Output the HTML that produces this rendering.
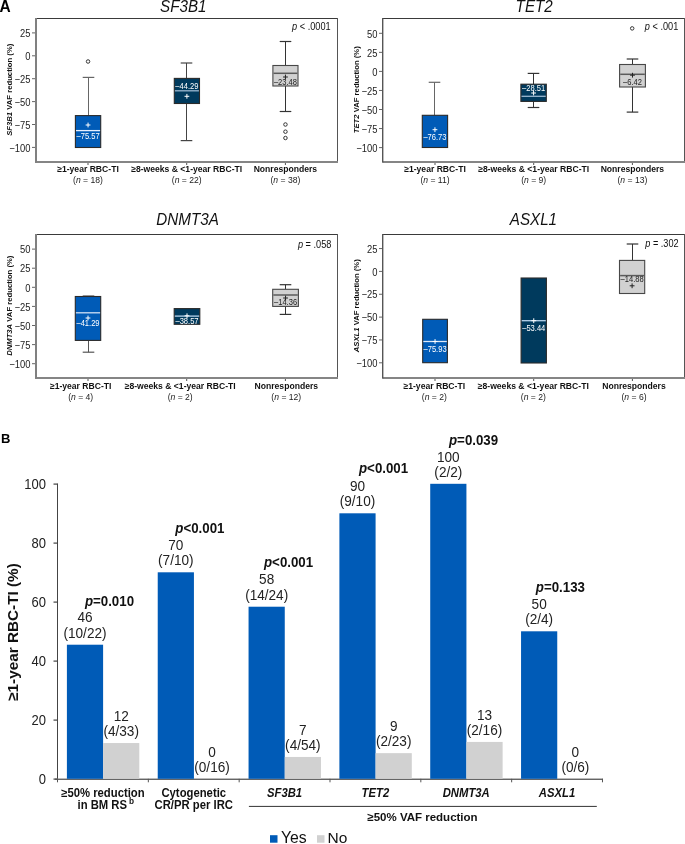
<!DOCTYPE html>
<html><head><meta charset="utf-8"><style>
html,body{margin:0;padding:0;background:#fff;overflow:hidden;}
svg{display:block;font-family:"Liberation Sans", sans-serif;will-change:transform;}
</style></head><body>
<svg width="685" height="844" viewBox="0 0 685 844">
<text x="0" y="0" transform="translate(-0.4,11.6) scale(1,1.05)" font-size="15.5" text-anchor="start" font-weight="bold" font-style="normal" fill="#000" >A</text>
<text x="0" y="0" transform="translate(183.3,11.7) scale(1,1.05)" font-size="15.2" text-anchor="middle" font-weight="normal" font-style="italic" fill="#111" >SF3B1</text>
<rect x="35" y="18" width="302.6" height="1" fill="#3a3a3a" />
<rect x="337" y="18" width="1" height="143.5" fill="#555" />
<rect x="35" y="161.0" width="303" height="2" fill="#858585" />
<rect x="35" y="18" width="2" height="144.5" fill="#808080" />
<rect x="32" y="32.39999999999999" width="3" height="1" fill="#666" />
<text x="0" y="0" transform="translate(30.5,37.099999999999994) scale(1,1.1)" font-size="9.4" text-anchor="end" font-weight="normal" font-style="normal" fill="#222" >25</text>
<rect x="32" y="55.3" width="3" height="1" fill="#666" />
<text x="0" y="0" transform="translate(30.5,60.0) scale(1,1.1)" font-size="9.4" text-anchor="end" font-weight="normal" font-style="normal" fill="#222" >0</text>
<rect x="32" y="78.2" width="3" height="1" fill="#666" />
<text x="0" y="0" transform="translate(30.5,82.9) scale(1,1.1)" font-size="9.4" text-anchor="end" font-weight="normal" font-style="normal" fill="#222" >−25</text>
<rect x="32" y="101.1" width="3" height="1" fill="#666" />
<text x="0" y="0" transform="translate(30.5,105.8) scale(1,1.1)" font-size="9.4" text-anchor="end" font-weight="normal" font-style="normal" fill="#222" >−50</text>
<rect x="32" y="124.0" width="3" height="1" fill="#666" />
<text x="0" y="0" transform="translate(30.5,128.7) scale(1,1.1)" font-size="9.4" text-anchor="end" font-weight="normal" font-style="normal" fill="#222" >−75</text>
<rect x="32" y="146.9" width="3" height="1" fill="#666" />
<text x="0" y="0" transform="translate(30.5,151.6) scale(1,1.1)" font-size="9.4" text-anchor="end" font-weight="normal" font-style="normal" fill="#222" >−100</text>
<text x="0" y="0" font-size="7.7" font-weight="bold" text-anchor="middle" fill="#111" transform="translate(12.3,89.75) rotate(-90)"><tspan font-style="italic">SF3B1</tspan> VAF reduction (%)</text>
<rect x="87.5" y="163.0" width="1" height="2" fill="#555" />
<text x="88" y="172.3" font-size="8.6" text-anchor="middle" font-weight="bold" font-style="normal" fill="#111" >≥1-year RBC-TI</text>
<text x="88" y="183.2" font-size="8.6" text-anchor="middle" font-weight="normal" font-style="normal" fill="#222" >(<tspan font-style="italic">n</tspan> = 18)</text>
<rect x="186.2" y="163.0" width="1" height="2" fill="#555" />
<text x="186.7" y="172.3" font-size="8.6" text-anchor="middle" font-weight="bold" font-style="normal" fill="#111" >≥8-weeks &amp; &lt;1-year RBC-TI</text>
<text x="186.7" y="183.2" font-size="8.6" text-anchor="middle" font-weight="normal" font-style="normal" fill="#222" >(<tspan font-style="italic">n</tspan> = 22)</text>
<rect x="284.9" y="163.0" width="1" height="2" fill="#555" />
<text x="285.4" y="172.3" font-size="8.6" text-anchor="middle" font-weight="bold" font-style="normal" fill="#111" >Nonresponders</text>
<text x="285.4" y="183.2" font-size="8.6" text-anchor="middle" font-weight="normal" font-style="normal" fill="#222" >(<tspan font-style="italic">n</tspan> = 38)</text>
<text x="0" y="0" transform="translate(330.7,29.8) scale(1,1.15)" font-size="9.2" text-anchor="end" font-weight="normal" font-style="normal" fill="#111" ><tspan font-style="italic">p</tspan> &lt; .0001</text>
<text x="0" y="0" transform="translate(534.2,11.7) scale(1,1.05)" font-size="15.2" text-anchor="middle" font-weight="normal" font-style="italic" fill="#111" >TET2</text>
<rect x="382.5" y="18" width="302.1" height="1" fill="#3a3a3a" />
<rect x="684" y="18" width="1" height="143.5" fill="#555" />
<rect x="382.5" y="161.0" width="302.5" height="2" fill="#858585" />
<rect x="382" y="18" width="1.4" height="144.5" fill="#555" />
<rect x="379" y="32.800000000000004" width="3" height="1" fill="#666" />
<text x="0" y="0" transform="translate(377.5,37.50000000000001) scale(1,1.1)" font-size="9.4" text-anchor="end" font-weight="normal" font-style="normal" fill="#222" >50</text>
<rect x="379" y="51.85000000000001" width="3" height="1" fill="#666" />
<text x="0" y="0" transform="translate(377.5,56.55000000000001) scale(1,1.1)" font-size="9.4" text-anchor="end" font-weight="normal" font-style="normal" fill="#222" >25</text>
<rect x="379" y="70.9" width="3" height="1" fill="#666" />
<text x="0" y="0" transform="translate(377.5,75.60000000000001) scale(1,1.1)" font-size="9.4" text-anchor="end" font-weight="normal" font-style="normal" fill="#222" >0</text>
<rect x="379" y="89.95" width="3" height="1" fill="#666" />
<text x="0" y="0" transform="translate(377.5,94.65) scale(1,1.1)" font-size="9.4" text-anchor="end" font-weight="normal" font-style="normal" fill="#222" >−25</text>
<rect x="379" y="109.0" width="3" height="1" fill="#666" />
<text x="0" y="0" transform="translate(377.5,113.7) scale(1,1.1)" font-size="9.4" text-anchor="end" font-weight="normal" font-style="normal" fill="#222" >−50</text>
<rect x="379" y="128.05" width="3" height="1" fill="#666" />
<text x="0" y="0" transform="translate(377.5,132.75) scale(1,1.1)" font-size="9.4" text-anchor="end" font-weight="normal" font-style="normal" fill="#222" >−75</text>
<rect x="379" y="147.10000000000002" width="3" height="1" fill="#666" />
<text x="0" y="0" transform="translate(377.5,151.8) scale(1,1.1)" font-size="9.4" text-anchor="end" font-weight="normal" font-style="normal" fill="#222" >−100</text>
<text x="0" y="0" font-size="7.7" font-weight="bold" text-anchor="middle" fill="#111" transform="translate(359.3,89.75) rotate(-90)"><tspan font-style="italic">TET2</tspan> VAF reduction (%)</text>
<rect x="434.5" y="163.0" width="1" height="2" fill="#555" />
<text x="435" y="172.3" font-size="8.6" text-anchor="middle" font-weight="bold" font-style="normal" fill="#111" >≥1-year RBC-TI</text>
<text x="435" y="183.2" font-size="8.6" text-anchor="middle" font-weight="normal" font-style="normal" fill="#222" >(<tspan font-style="italic">n</tspan> = 11)</text>
<rect x="533.2" y="163.0" width="1" height="2" fill="#555" />
<text x="533.7" y="172.3" font-size="8.6" text-anchor="middle" font-weight="bold" font-style="normal" fill="#111" >≥8-weeks &amp; &lt;1-year RBC-TI</text>
<text x="533.7" y="183.2" font-size="8.6" text-anchor="middle" font-weight="normal" font-style="normal" fill="#222" >(<tspan font-style="italic">n</tspan> = 9)</text>
<rect x="631.9" y="163.0" width="1" height="2" fill="#555" />
<text x="632.4" y="172.3" font-size="8.6" text-anchor="middle" font-weight="bold" font-style="normal" fill="#111" >Nonresponders</text>
<text x="632.4" y="183.2" font-size="8.6" text-anchor="middle" font-weight="normal" font-style="normal" fill="#222" >(<tspan font-style="italic">n</tspan> = 13)</text>
<text x="0" y="0" transform="translate(678.3,29.8) scale(1,1.15)" font-size="9.2" text-anchor="end" font-weight="normal" font-style="normal" fill="#111" ><tspan font-style="italic">p</tspan> &lt; .001</text>
<text x="0" y="0" transform="translate(187.6,225.1) scale(1,1.05)" font-size="15.2" text-anchor="middle" font-weight="normal" font-style="italic" fill="#111" >DNMT3A</text>
<rect x="35" y="234" width="302.6" height="1" fill="#3a3a3a" />
<rect x="337" y="234" width="1" height="143.5" fill="#555" />
<rect x="35" y="377.0" width="303" height="2" fill="#858585" />
<rect x="35" y="234" width="2" height="144.5" fill="#808080" />
<rect x="32" y="248.60000000000002" width="3" height="1" fill="#666" />
<text x="0" y="0" transform="translate(30.5,253.3) scale(1,1.1)" font-size="9.4" text-anchor="end" font-weight="normal" font-style="normal" fill="#222" >50</text>
<rect x="32" y="267.7" width="3" height="1" fill="#666" />
<text x="0" y="0" transform="translate(30.5,272.4) scale(1,1.1)" font-size="9.4" text-anchor="end" font-weight="normal" font-style="normal" fill="#222" >25</text>
<rect x="32" y="286.8" width="3" height="1" fill="#666" />
<text x="0" y="0" transform="translate(30.5,291.5) scale(1,1.1)" font-size="9.4" text-anchor="end" font-weight="normal" font-style="normal" fill="#222" >0</text>
<rect x="32" y="305.90000000000003" width="3" height="1" fill="#666" />
<text x="0" y="0" transform="translate(30.5,310.6) scale(1,1.1)" font-size="9.4" text-anchor="end" font-weight="normal" font-style="normal" fill="#222" >−25</text>
<rect x="32" y="325.0" width="3" height="1" fill="#666" />
<text x="0" y="0" transform="translate(30.5,329.7) scale(1,1.1)" font-size="9.4" text-anchor="end" font-weight="normal" font-style="normal" fill="#222" >−50</text>
<rect x="32" y="344.1" width="3" height="1" fill="#666" />
<text x="0" y="0" transform="translate(30.5,348.8) scale(1,1.1)" font-size="9.4" text-anchor="end" font-weight="normal" font-style="normal" fill="#222" >−75</text>
<rect x="32" y="363.20000000000005" width="3" height="1" fill="#666" />
<text x="0" y="0" transform="translate(30.5,367.90000000000003) scale(1,1.1)" font-size="9.4" text-anchor="end" font-weight="normal" font-style="normal" fill="#222" >−100</text>
<text x="0" y="0" font-size="7.7" font-weight="bold" text-anchor="middle" fill="#111" transform="translate(12.3,305.75) rotate(-90)"><tspan font-style="italic">DNMT3A</tspan> VAF reduction (%)</text>
<rect x="87.5" y="379.0" width="1" height="2" fill="#555" />
<text x="80.7" y="389.0" font-size="8.6" text-anchor="middle" font-weight="bold" font-style="normal" fill="#111" >≥1-year RBC-TI</text>
<text x="80.7" y="399.7" font-size="8.6" text-anchor="middle" font-weight="normal" font-style="normal" fill="#222" >(<tspan font-style="italic">n</tspan> = 4)</text>
<rect x="186.2" y="379.0" width="1" height="2" fill="#555" />
<text x="180.2" y="389.0" font-size="8.6" text-anchor="middle" font-weight="bold" font-style="normal" fill="#111" >≥8-weeks &amp; &lt;1-year RBC-TI</text>
<text x="180.2" y="399.7" font-size="8.6" text-anchor="middle" font-weight="normal" font-style="normal" fill="#222" >(<tspan font-style="italic">n</tspan> = 2)</text>
<rect x="284.9" y="379.0" width="1" height="2" fill="#555" />
<text x="286.3" y="389.0" font-size="8.6" text-anchor="middle" font-weight="bold" font-style="normal" fill="#111" >Nonresponders</text>
<text x="286.3" y="399.7" font-size="8.6" text-anchor="middle" font-weight="normal" font-style="normal" fill="#222" >(<tspan font-style="italic">n</tspan> = 12)</text>
<text x="0" y="0" transform="translate(331.4,247.7) scale(1,1.15)" font-size="9.2" text-anchor="end" font-weight="normal" font-style="normal" fill="#111" ><tspan font-style="italic">p</tspan> = .058</text>
<text x="0" y="0" transform="translate(533.4,225.1) scale(1,1.05)" font-size="15.2" text-anchor="middle" font-weight="normal" font-style="italic" fill="#111" >ASXL1</text>
<rect x="382.5" y="234" width="302.1" height="1" fill="#3a3a3a" />
<rect x="684" y="234" width="1" height="143.5" fill="#555" />
<rect x="382.5" y="377.0" width="302.5" height="2" fill="#858585" />
<rect x="382" y="234" width="1.4" height="144.5" fill="#555" />
<rect x="379" y="248.04999999999998" width="3" height="1" fill="#666" />
<text x="0" y="0" transform="translate(377.5,252.74999999999997) scale(1,1.1)" font-size="9.4" text-anchor="end" font-weight="normal" font-style="normal" fill="#222" >25</text>
<rect x="379" y="270.9" width="3" height="1" fill="#666" />
<text x="0" y="0" transform="translate(377.5,275.59999999999997) scale(1,1.1)" font-size="9.4" text-anchor="end" font-weight="normal" font-style="normal" fill="#222" >0</text>
<rect x="379" y="293.75" width="3" height="1" fill="#666" />
<text x="0" y="0" transform="translate(377.5,298.45) scale(1,1.1)" font-size="9.4" text-anchor="end" font-weight="normal" font-style="normal" fill="#222" >−25</text>
<rect x="379" y="316.59999999999997" width="3" height="1" fill="#666" />
<text x="0" y="0" transform="translate(377.5,321.29999999999995) scale(1,1.1)" font-size="9.4" text-anchor="end" font-weight="normal" font-style="normal" fill="#222" >−50</text>
<rect x="379" y="339.45" width="3" height="1" fill="#666" />
<text x="0" y="0" transform="translate(377.5,344.15) scale(1,1.1)" font-size="9.4" text-anchor="end" font-weight="normal" font-style="normal" fill="#222" >−75</text>
<rect x="379" y="362.29999999999995" width="3" height="1" fill="#666" />
<text x="0" y="0" transform="translate(377.5,366.99999999999994) scale(1,1.1)" font-size="9.4" text-anchor="end" font-weight="normal" font-style="normal" fill="#222" >−100</text>
<text x="0" y="0" font-size="7.7" font-weight="bold" text-anchor="middle" fill="#111" transform="translate(359.3,305.75) rotate(-90)"><tspan font-style="italic">ASXL1</tspan> VAF reduction (%)</text>
<rect x="434.5" y="379.0" width="1" height="2" fill="#555" />
<text x="434.3" y="389.0" font-size="8.6" text-anchor="middle" font-weight="bold" font-style="normal" fill="#111" >≥1-year RBC-TI</text>
<text x="434.3" y="399.7" font-size="8.6" text-anchor="middle" font-weight="normal" font-style="normal" fill="#222" >(<tspan font-style="italic">n</tspan> = 2)</text>
<rect x="533.2" y="379.0" width="1" height="2" fill="#555" />
<text x="533.3" y="389.0" font-size="8.6" text-anchor="middle" font-weight="bold" font-style="normal" fill="#111" >≥8-weeks &amp; &lt;1-year RBC-TI</text>
<text x="533.3" y="399.7" font-size="8.6" text-anchor="middle" font-weight="normal" font-style="normal" fill="#222" >(<tspan font-style="italic">n</tspan> = 2)</text>
<rect x="631.9" y="379.0" width="1" height="2" fill="#555" />
<text x="634" y="389.0" font-size="8.6" text-anchor="middle" font-weight="bold" font-style="normal" fill="#111" >Nonresponders</text>
<text x="634" y="399.7" font-size="8.6" text-anchor="middle" font-weight="normal" font-style="normal" fill="#222" >(<tspan font-style="italic">n</tspan> = 6)</text>
<text x="0" y="0" transform="translate(678.7,246.9) scale(1,1.15)" font-size="9.2" text-anchor="end" font-weight="normal" font-style="normal" fill="#111" ><tspan font-style="italic">p</tspan> = .302</text>
<line x1="88.5" y1="77.4" x2="88.5" y2="115.6" stroke="#666" stroke-width="1" />
<line x1="82.7" y1="77.4" x2="94.3" y2="77.4" stroke="#666" stroke-width="1.2" />
<rect x="75.4" y="115.6" width="25.299999999999997" height="31.900000000000006" fill="#005bb7" stroke="#2a2a2a" stroke-width="1.1"/>
<line x1="76.0" y1="130.6" x2="100.10000000000001" y2="130.6" stroke="#e8f0ff" stroke-width="1.3" />
<line x1="85.65" y1="125" x2="90.45000000000002" y2="125" stroke="#fff" stroke-width="1.0" />
<line x1="88.05000000000001" y1="122.6" x2="88.05000000000001" y2="127.4" stroke="#fff" stroke-width="1.0" />
<text x="0" y="0" transform="translate(88.05000000000001,139.29999999999998) scale(0.9,1)" font-size="8.4" text-anchor="middle" font-weight="normal" font-style="normal" fill="#fff" >–75.57</text>
<circle cx="88.05000000000001" cy="61.5" r="1.75" fill="none" stroke="#333" stroke-width="1"/>
<line x1="186.5" y1="63" x2="186.5" y2="78.4" stroke="#444" stroke-width="1" />
<line x1="180.7" y1="63" x2="192.3" y2="63" stroke="#444" stroke-width="1.2" />
<line x1="186.5" y1="103.5" x2="186.5" y2="140.6" stroke="#444" stroke-width="1" />
<line x1="180.7" y1="140.6" x2="192.3" y2="140.6" stroke="#444" stroke-width="1.2" />
<rect x="174.3" y="78.4" width="25.19999999999999" height="25.099999999999994" fill="#003a5d" stroke="#2a2a2a" stroke-width="1.1"/>
<line x1="174.9" y1="90.8" x2="198.9" y2="90.8" stroke="#9ab8d0" stroke-width="1.3" />
<line x1="184.5" y1="96.3" x2="189.3" y2="96.3" stroke="#fff" stroke-width="1.0" />
<line x1="186.9" y1="93.89999999999999" x2="186.9" y2="98.7" stroke="#fff" stroke-width="1.0" />
<text x="0" y="0" transform="translate(186.9,88.5) scale(0.9,1)" font-size="8.4" text-anchor="middle" font-weight="normal" font-style="normal" fill="#fff" >–44.29</text>
<line x1="285.5" y1="41.5" x2="285.5" y2="65.5" stroke="#333" stroke-width="1" />
<line x1="279.7" y1="41.5" x2="291.3" y2="41.5" stroke="#333" stroke-width="1.2" />
<line x1="285.5" y1="86" x2="285.5" y2="111.5" stroke="#333" stroke-width="1" />
<line x1="279.7" y1="111.5" x2="291.3" y2="111.5" stroke="#333" stroke-width="1.2" />
<rect x="272.9" y="65.5" width="25.100000000000023" height="20.5" fill="#d1d1d1" stroke="#474747" stroke-width="1.1"/>
<line x1="273.5" y1="73.3" x2="297.4" y2="73.3" stroke="#5a5a5a" stroke-width="1.5" />
<line x1="283.05" y1="77" x2="287.84999999999997" y2="77" stroke="#222" stroke-width="1.0" />
<line x1="285.45" y1="74.6" x2="285.45" y2="79.4" stroke="#222" stroke-width="1.0" />
<text x="0" y="0" transform="translate(285.45,85.39999999999999) scale(0.9,1)" font-size="8.4" text-anchor="middle" font-weight="normal" font-style="normal" fill="#222" >–23.48</text>
<circle cx="285.45" cy="124.5" r="1.75" fill="none" stroke="#333" stroke-width="1"/>
<circle cx="285.45" cy="131.7" r="1.75" fill="none" stroke="#333" stroke-width="1"/>
<circle cx="285.45" cy="138" r="1.75" fill="none" stroke="#333" stroke-width="1"/>
<line x1="434.5" y1="82.3" x2="434.5" y2="115.3" stroke="#666" stroke-width="1" />
<line x1="428.7" y1="82.3" x2="440.3" y2="82.3" stroke="#666" stroke-width="1.2" />
<rect x="422.3" y="115.3" width="25.30000000000001" height="32.2" fill="#005bb7" stroke="#2a2a2a" stroke-width="1.1"/>
<line x1="432.55000000000007" y1="129.7" x2="437.35" y2="129.7" stroke="#fff" stroke-width="1.0" />
<line x1="434.95000000000005" y1="127.29999999999998" x2="434.95000000000005" y2="132.1" stroke="#fff" stroke-width="1.0" />
<text x="0" y="0" transform="translate(434.95000000000005,139.6) scale(0.9,1)" font-size="8.4" text-anchor="middle" font-weight="normal" font-style="normal" fill="#fff" >–76.73</text>
<line x1="533.5" y1="73.4" x2="533.5" y2="84.2" stroke="#333" stroke-width="1" />
<line x1="527.7" y1="73.4" x2="539.3" y2="73.4" stroke="#333" stroke-width="1.2" />
<line x1="533.5" y1="101.4" x2="533.5" y2="107.5" stroke="#333" stroke-width="1" />
<line x1="527.7" y1="107.5" x2="539.3" y2="107.5" stroke="#333" stroke-width="1.2" />
<rect x="520.9" y="84.2" width="25.399999999999977" height="17.200000000000003" fill="#003a5d" stroke="#2a2a2a" stroke-width="1.1"/>
<line x1="521.5" y1="96.3" x2="545.6999999999999" y2="96.3" stroke="#9ab8d0" stroke-width="1.3" />
<line x1="531.1999999999999" y1="93" x2="535.9999999999999" y2="93" stroke="#fff" stroke-width="1.0" />
<line x1="533.5999999999999" y1="90.6" x2="533.5999999999999" y2="95.4" stroke="#fff" stroke-width="1.0" />
<text x="0" y="0" transform="translate(533.5999999999999,91.19999999999999) scale(0.9,1)" font-size="8.4" text-anchor="middle" font-weight="normal" font-style="normal" fill="#fff" >–28.51</text>
<line x1="632.5" y1="59" x2="632.5" y2="64.5" stroke="#333" stroke-width="1" />
<line x1="626.7" y1="59" x2="638.3" y2="59" stroke="#333" stroke-width="1.2" />
<line x1="632.5" y1="87" x2="632.5" y2="112.1" stroke="#333" stroke-width="1" />
<line x1="626.7" y1="112.1" x2="638.3" y2="112.1" stroke="#333" stroke-width="1.2" />
<rect x="619.6" y="64.5" width="25.799999999999955" height="22.5" fill="#d1d1d1" stroke="#474747" stroke-width="1.1"/>
<line x1="620.2" y1="74.3" x2="644.8" y2="74.3" stroke="#5a5a5a" stroke-width="1.5" />
<line x1="630.1" y1="75.2" x2="634.9" y2="75.2" stroke="#222" stroke-width="1.0" />
<line x1="632.5" y1="72.8" x2="632.5" y2="77.60000000000001" stroke="#222" stroke-width="1.0" />
<text x="0" y="0" transform="translate(632.5,85.1) scale(0.9,1)" font-size="8.4" text-anchor="middle" font-weight="normal" font-style="normal" fill="#222" >–6.42</text>
<circle cx="632.2" cy="28.4" r="1.75" fill="none" stroke="#333" stroke-width="1"/>
<line x1="88.5" y1="296" x2="88.5" y2="296.5" stroke="#555" stroke-width="1" />
<line x1="82.7" y1="296" x2="94.3" y2="296" stroke="#555" stroke-width="1.2" />
<line x1="88.5" y1="340.4" x2="88.5" y2="352.2" stroke="#555" stroke-width="1" />
<line x1="82.7" y1="352.2" x2="94.3" y2="352.2" stroke="#555" stroke-width="1.2" />
<rect x="75.3" y="296.5" width="25.400000000000006" height="43.89999999999998" fill="#005bb7" stroke="#2a2a2a" stroke-width="1.1"/>
<line x1="75.89999999999999" y1="312.8" x2="100.10000000000001" y2="312.8" stroke="#cfe0f5" stroke-width="1.3" />
<line x1="85.6" y1="318" x2="90.4" y2="318" stroke="#fff" stroke-width="1.0" />
<line x1="88.0" y1="315.6" x2="88.0" y2="320.4" stroke="#fff" stroke-width="1.0" />
<text x="0" y="0" transform="translate(88.0,326.20000000000005) scale(0.9,1)" font-size="8.4" text-anchor="middle" font-weight="normal" font-style="normal" fill="#fff" >–41.29</text>
<rect x="174.2" y="308.6" width="25.600000000000023" height="15.699999999999989" fill="#003a5d" stroke="#2a2a2a" stroke-width="1.1"/>
<line x1="174.79999999999998" y1="316.1" x2="199.20000000000002" y2="316.1" stroke="#b8d4ec" stroke-width="1.3" />
<line x1="184.6" y1="315.8" x2="189.4" y2="315.8" stroke="#fff" stroke-width="1.0" />
<line x1="187.0" y1="313.40000000000003" x2="187.0" y2="318.2" stroke="#fff" stroke-width="1.0" />
<text x="0" y="0" transform="translate(187.0,323.6) scale(0.9,1)" font-size="8.4" text-anchor="middle" font-weight="normal" font-style="normal" fill="#fff" >–38.57</text>
<line x1="285.5" y1="284.7" x2="285.5" y2="289.3" stroke="#333" stroke-width="1" />
<line x1="279.7" y1="284.7" x2="291.3" y2="284.7" stroke="#333" stroke-width="1.2" />
<line x1="285.5" y1="306.4" x2="285.5" y2="314.4" stroke="#333" stroke-width="1" />
<line x1="279.7" y1="314.4" x2="291.3" y2="314.4" stroke="#333" stroke-width="1.2" />
<rect x="272.7" y="289.3" width="25.69999999999999" height="17.099999999999966" fill="#d1d1d1" stroke="#474747" stroke-width="1.1"/>
<line x1="273.3" y1="295.0" x2="297.79999999999995" y2="295.0" stroke="#5a5a5a" stroke-width="1.5" />
<line x1="283.15" y1="298" x2="287.94999999999993" y2="298" stroke="#222" stroke-width="1.0" />
<line x1="285.54999999999995" y1="295.6" x2="285.54999999999995" y2="300.4" stroke="#222" stroke-width="1.0" />
<text x="0" y="0" transform="translate(285.54999999999995,304.8) scale(0.9,1)" font-size="8.4" text-anchor="middle" font-weight="normal" font-style="normal" fill="#222" >–14.36</text>
<rect x="422.7" y="319.3" width="24.69999999999999" height="43.39999999999998" fill="#005bb7" stroke="#2a2a2a" stroke-width="1.1"/>
<line x1="423.3" y1="341.5" x2="446.79999999999995" y2="341.5" stroke="#dde8f8" stroke-width="1.3" />
<line x1="432.65" y1="341.5" x2="437.44999999999993" y2="341.5" stroke="#fff" stroke-width="1.0" />
<line x1="435.04999999999995" y1="339.1" x2="435.04999999999995" y2="343.9" stroke="#fff" stroke-width="1.0" />
<text x="0" y="0" transform="translate(435.04999999999995,351.6) scale(0.9,1)" font-size="8.4" text-anchor="middle" font-weight="normal" font-style="normal" fill="#fff" >–75.93</text>
<rect x="521.1" y="278" width="25.299999999999955" height="85" fill="#003a5d" stroke="#2a2a2a" stroke-width="1.1"/>
<line x1="521.7" y1="320.7" x2="545.8" y2="320.7" stroke="#b8d4ec" stroke-width="1.3" />
<line x1="531.35" y1="320.7" x2="536.15" y2="320.7" stroke="#fff" stroke-width="1.0" />
<line x1="533.75" y1="318.3" x2="533.75" y2="323.09999999999997" stroke="#fff" stroke-width="1.0" />
<text x="0" y="0" transform="translate(533.75,331.20000000000005) scale(0.9,1)" font-size="8.4" text-anchor="middle" font-weight="normal" font-style="normal" fill="#fff" >–53.44</text>
<line x1="632.5" y1="244" x2="632.5" y2="260.4" stroke="#333" stroke-width="1" />
<line x1="626.7" y1="244" x2="638.3" y2="244" stroke="#333" stroke-width="1.2" />
<rect x="619.5" y="260.4" width="25.200000000000045" height="33.10000000000002" fill="#d1d1d1" stroke="#474747" stroke-width="1.1"/>
<line x1="620.1" y1="275.6" x2="644.1" y2="275.6" stroke="#5a5a5a" stroke-width="1.5" />
<line x1="629.7" y1="285.8" x2="634.5" y2="285.8" stroke="#222" stroke-width="1.0" />
<line x1="632.1" y1="283.40000000000003" x2="632.1" y2="288.2" stroke="#222" stroke-width="1.0" />
<text x="0" y="0" transform="translate(632.1,282.20000000000005) scale(0.9,1)" font-size="8.4" text-anchor="middle" font-weight="normal" font-style="normal" fill="#222" >–14.88</text>
<text x="1" y="443.2" font-size="12.3" font-weight="bold" fill="#000" transform="translate(1,0) scale(1.06,1) translate(-1,0)">B</text>
<rect x="57.0" y="483.5" width="1" height="295.29999999999995" fill="#444" />
<rect x="53.5" y="778.5" width="4" height="1.2" fill="#444" />
<text x="0" y="0" transform="translate(46,783.5) scale(1,1.06)" font-size="13" text-anchor="end" font-weight="normal" font-style="normal" fill="#222" >0</text>
<rect x="53.5" y="719.5" width="4" height="1.2" fill="#444" />
<text x="0" y="0" transform="translate(46,724.5) scale(1,1.06)" font-size="13" text-anchor="end" font-weight="normal" font-style="normal" fill="#222" >20</text>
<rect x="53.5" y="660.5" width="4" height="1.2" fill="#444" />
<text x="0" y="0" transform="translate(46,665.5) scale(1,1.06)" font-size="13" text-anchor="end" font-weight="normal" font-style="normal" fill="#222" >40</text>
<rect x="53.5" y="601.5" width="4" height="1.2" fill="#444" />
<text x="0" y="0" transform="translate(46,606.5) scale(1,1.06)" font-size="13" text-anchor="end" font-weight="normal" font-style="normal" fill="#222" >60</text>
<rect x="53.5" y="542.5" width="4" height="1.2" fill="#444" />
<text x="0" y="0" transform="translate(46,547.5) scale(1,1.06)" font-size="13" text-anchor="end" font-weight="normal" font-style="normal" fill="#222" >80</text>
<rect x="53.5" y="483.49999999999994" width="4" height="1.2" fill="#444" />
<text x="0" y="0" transform="translate(46,488.49999999999994) scale(1,1.06)" font-size="13" text-anchor="end" font-weight="normal" font-style="normal" fill="#222" >100</text>
<text x="0" y="0" font-size="15.3" font-weight="bold" text-anchor="middle" fill="#111" transform="translate(17.6,632) rotate(-90)">≥1-year RBC-TI (%)</text>
<rect x="55.0" y="778.5999999999999" width="548.0" height="1.3" fill="#555" />
<rect x="57.0" y="778.8" width="1" height="3.5" fill="#555" />
<rect x="147.82999999999998" y="778.8" width="1" height="3.5" fill="#555" />
<rect x="238.66" y="778.8" width="1" height="3.5" fill="#555" />
<rect x="329.49" y="778.8" width="1" height="3.5" fill="#555" />
<rect x="420.32" y="778.8" width="1" height="3.5" fill="#555" />
<rect x="511.15" y="778.8" width="1" height="3.5" fill="#555" />
<rect x="601.98" y="778.8" width="1" height="3.5" fill="#555" />
<rect x="66.9" y="644.7090909090908" width="36.2" height="134.09090909090912" fill="#005bb7" />
<text x="0" y="0" transform="translate(85.0,622.4090909090909) scale(1,1.04)" font-size="13.6" text-anchor="middle" font-weight="normal" font-style="normal" fill="#222" >46</text>
<text x="0" y="0" transform="translate(85.0,637.7090909090908) scale(1,1.04)" font-size="13.6" text-anchor="middle" font-weight="normal" font-style="normal" fill="#222" >(10/22)</text>
<text x="0" y="0" transform="translate(84.9,606.2) scale(1,1.08)" font-size="13.3" text-anchor="start" font-weight="bold" font-style="normal" fill="#111" ><tspan font-style="italic">p</tspan>=0.010</text>
<rect x="103.10000000000001" y="743.0424242424242" width="36.2" height="35.75757575757575" fill="#d1d1d1" />
<text x="0" y="0" transform="translate(121.20000000000002,720.7424242424242) scale(1,1.04)" font-size="13.6" text-anchor="middle" font-weight="normal" font-style="normal" fill="#222" >12</text>
<text x="0" y="0" transform="translate(121.20000000000002,736.0424242424242) scale(1,1.04)" font-size="13.6" text-anchor="middle" font-weight="normal" font-style="normal" fill="#222" >(4/33)</text>
<rect x="157.73" y="572.3" width="36.2" height="206.5" fill="#005bb7" />
<text x="0" y="0" transform="translate(175.82999999999998,550.0) scale(1,1.04)" font-size="13.6" text-anchor="middle" font-weight="normal" font-style="normal" fill="#222" >70</text>
<text x="0" y="0" transform="translate(175.82999999999998,565.3) scale(1,1.04)" font-size="13.6" text-anchor="middle" font-weight="normal" font-style="normal" fill="#222" >(7/10)</text>
<text x="0" y="0" transform="translate(175.3,532.8) scale(1,1.08)" font-size="13.3" text-anchor="start" font-weight="bold" font-style="normal" fill="#111" ><tspan font-style="italic">p</tspan>&lt;0.001</text>
<text x="0" y="0" transform="translate(212.03,756.5) scale(1,1.04)" font-size="13.6" text-anchor="middle" font-weight="normal" font-style="normal" fill="#222" >0</text>
<text x="0" y="0" transform="translate(212.03,771.8) scale(1,1.04)" font-size="13.6" text-anchor="middle" font-weight="normal" font-style="normal" fill="#222" >(0/16)</text>
<rect x="248.56" y="606.7166666666666" width="36.2" height="172.08333333333337" fill="#005bb7" />
<text x="0" y="0" transform="translate(266.66,584.4166666666666) scale(1,1.04)" font-size="13.6" text-anchor="middle" font-weight="normal" font-style="normal" fill="#222" >58</text>
<text x="0" y="0" transform="translate(266.66,599.7166666666666) scale(1,1.04)" font-size="13.6" text-anchor="middle" font-weight="normal" font-style="normal" fill="#222" >(14/24)</text>
<text x="0" y="0" transform="translate(264.0,566.5) scale(1,1.08)" font-size="13.3" text-anchor="start" font-weight="bold" font-style="normal" fill="#111" ><tspan font-style="italic">p</tspan>&lt;0.001</text>
<rect x="284.76" y="756.9481481481481" width="36.2" height="21.851851851851848" fill="#d1d1d1" />
<text x="0" y="0" transform="translate(302.86,734.6481481481482) scale(1,1.04)" font-size="13.6" text-anchor="middle" font-weight="normal" font-style="normal" fill="#222" >7</text>
<text x="0" y="0" transform="translate(302.86,749.9481481481481) scale(1,1.04)" font-size="13.6" text-anchor="middle" font-weight="normal" font-style="normal" fill="#222" >(4/54)</text>
<rect x="339.39" y="513.3" width="36.2" height="265.5" fill="#005bb7" />
<text x="0" y="0" transform="translate(357.49,490.99999999999994) scale(1,1.04)" font-size="13.6" text-anchor="middle" font-weight="normal" font-style="normal" fill="#222" >90</text>
<text x="0" y="0" transform="translate(357.49,506.29999999999995) scale(1,1.04)" font-size="13.6" text-anchor="middle" font-weight="normal" font-style="normal" fill="#222" >(9/10)</text>
<text x="0" y="0" transform="translate(359.0,472.9) scale(1,1.08)" font-size="13.3" text-anchor="start" font-weight="bold" font-style="normal" fill="#111" ><tspan font-style="italic">p</tspan>&lt;0.001</text>
<rect x="375.59" y="753.1478260869565" width="36.2" height="25.652173913043498" fill="#d1d1d1" />
<text x="0" y="0" transform="translate(393.69,730.8478260869565) scale(1,1.04)" font-size="13.6" text-anchor="middle" font-weight="normal" font-style="normal" fill="#222" >9</text>
<text x="0" y="0" transform="translate(393.69,746.1478260869565) scale(1,1.04)" font-size="13.6" text-anchor="middle" font-weight="normal" font-style="normal" fill="#222" >(2/23)</text>
<rect x="430.21999999999997" y="483.79999999999995" width="36.2" height="295.0" fill="#005bb7" />
<text x="0" y="0" transform="translate(448.32,461.49999999999994) scale(1,1.04)" font-size="13.6" text-anchor="middle" font-weight="normal" font-style="normal" fill="#222" >100</text>
<text x="0" y="0" transform="translate(448.32,476.79999999999995) scale(1,1.04)" font-size="13.6" text-anchor="middle" font-weight="normal" font-style="normal" fill="#222" >(2/2)</text>
<text x="0" y="0" transform="translate(449.0,444.5) scale(1,1.08)" font-size="13.3" text-anchor="start" font-weight="bold" font-style="normal" fill="#111" ><tspan font-style="italic">p</tspan>=0.039</text>
<rect x="466.41999999999996" y="741.925" width="36.2" height="36.875" fill="#d1d1d1" />
<text x="0" y="0" transform="translate(484.52,719.625) scale(1,1.04)" font-size="13.6" text-anchor="middle" font-weight="normal" font-style="normal" fill="#222" >13</text>
<text x="0" y="0" transform="translate(484.52,734.925) scale(1,1.04)" font-size="13.6" text-anchor="middle" font-weight="normal" font-style="normal" fill="#222" >(2/16)</text>
<rect x="521.05" y="631.3" width="36.2" height="147.5" fill="#005bb7" />
<text x="0" y="0" transform="translate(539.15,609.0) scale(1,1.04)" font-size="13.6" text-anchor="middle" font-weight="normal" font-style="normal" fill="#222" >50</text>
<text x="0" y="0" transform="translate(539.15,624.3) scale(1,1.04)" font-size="13.6" text-anchor="middle" font-weight="normal" font-style="normal" fill="#222" >(2/4)</text>
<text x="0" y="0" transform="translate(535.8,591.9) scale(1,1.08)" font-size="13.3" text-anchor="start" font-weight="bold" font-style="normal" fill="#111" ><tspan font-style="italic">p</tspan>=0.133</text>
<text x="0" y="0" transform="translate(575.3499999999999,756.5) scale(1,1.04)" font-size="13.6" text-anchor="middle" font-weight="normal" font-style="normal" fill="#222" >0</text>
<text x="0" y="0" transform="translate(575.3499999999999,771.8) scale(1,1.04)" font-size="13.6" text-anchor="middle" font-weight="normal" font-style="normal" fill="#222" >(0/6)</text>
<text x="0" y="0" transform="translate(102.91499999999999,796.5) scale(1,1.05)" font-size="11.3" text-anchor="middle" font-weight="bold" font-style="normal" fill="#111" >≥50% reduction</text>
<text x="0" y="0" transform="translate(105.815,809) scale(1,1.05)" font-size="11.3" text-anchor="middle" font-weight="bold" font-style="normal" fill="#111" >in BM RS<tspan font-size="8.3" dx="2" dy="-4.6">b</tspan></text>
<text x="0" y="0" transform="translate(193.74499999999998,796.5) scale(1,1.05)" font-size="11.3" text-anchor="middle" font-weight="bold" font-style="normal" fill="#111" >Cytogenetic</text>
<text x="0" y="0" transform="translate(193.74499999999998,809) scale(1,1.05)" font-size="11.3" text-anchor="middle" font-weight="bold" font-style="normal" fill="#111" >CR/PR per IRC</text>
<text x="0" y="0" transform="translate(284.575,796.6) scale(1,1.05)" font-size="11.3" text-anchor="middle" font-weight="bold" font-style="italic" fill="#111" >SF3B1</text>
<text x="0" y="0" transform="translate(375.40500000000003,796.6) scale(1,1.05)" font-size="11.3" text-anchor="middle" font-weight="bold" font-style="italic" fill="#111" >TET2</text>
<text x="0" y="0" transform="translate(466.235,796.6) scale(1,1.05)" font-size="11.3" text-anchor="middle" font-weight="bold" font-style="italic" fill="#111" >DNMT3A</text>
<text x="0" y="0" transform="translate(557.0649999999999,796.6) scale(1,1.05)" font-size="11.3" text-anchor="middle" font-weight="bold" font-style="italic" fill="#111" >ASXL1</text>
<rect x="248.9" y="805.9" width="347.9" height="1" fill="#333" />
<text x="422.5" y="820.7" font-size="11.5" text-anchor="middle" font-weight="bold" font-style="normal" fill="#111" >≥50% VAF reduction</text>
<rect x="270" y="835.2" width="7.5" height="7.5" fill="#005bb7" />
<text x="281" y="843.2" font-size="15.8" text-anchor="start" font-weight="normal" font-style="normal" fill="#111" >Yes</text>
<rect x="317" y="835.2" width="7.5" height="7.5" fill="#d1d1d1" />
<text x="327.6" y="843.2" font-size="15.5" text-anchor="start" font-weight="normal" font-style="normal" fill="#111" >No</text>
</svg>
</body></html>
